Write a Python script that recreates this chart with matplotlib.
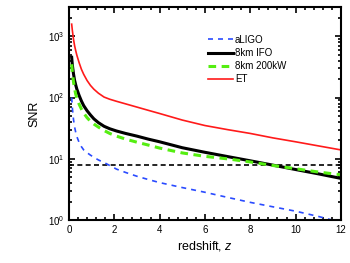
import matplotlib
matplotlib.use('Agg')
import matplotlib.pyplot as plt
from matplotlib.ticker import MultipleLocator, LogLocator, NullFormatter
import numpy as np

plt.rcParams['font.family'] = ['Liberation Sans', 'DejaVu Sans']
plt.rcParams['mathtext.fontset'] = 'custom'
plt.rcParams['mathtext.rm'] = 'Liberation Sans'
plt.rcParams['mathtext.it'] = 'Liberation Sans:italic'

# redshift grid
z = [0.12, 0.15, 0.2, 0.25, 0.3, 0.35, 0.45, 0.55, 0.65, 0.8, 0.95, 1.1, 1.3, 1.55,
     1.8, 2.1, 2.5, 3, 3.5, 4, 5, 6, 7, 8, 9, 10, 11, 12]

snr_aligo = [100, 68, 44, 33, 27, 23, 18.5, 15.8, 14, 12.6, 11.5, 10.6, 9.6, 8.7,
             7.8, 6.8, 6.0, 5.2, 4.6, 4.1, 3.4, 2.85, 2.35, 1.95, 1.65, 1.4, 1.15, 0.92]
snr_8km = [455, 340, 245, 190, 160, 137, 108, 88, 74, 61, 52, 45, 39, 34,
           31, 28.5, 26, 23.5, 21, 19, 15.2, 12.8, 10.9, 9.3, 7.9, 6.7, 5.7, 4.8]
snr_8km200 = [350, 260, 180, 140, 113, 97, 78, 65, 56, 47, 41, 37, 33, 29,
              26, 23.5, 21, 18.7, 16.8, 15, 12.5, 11, 10, 8.9, 7.8, 6.9, 6.1, 5.5]
snr_et = [1580, 1250, 900, 700, 580, 490, 370, 290, 240, 190, 158, 137, 118, 102,
          94, 87, 79, 70, 62, 55, 43, 35, 30, 26, 22, 19, 16.3, 14]

threshold = 8
labels = ['aLIGO', '8km IFO', '8km 200kW', 'ET']

fig = plt.figure(figsize=(3.5, 2.63), dpi=100)
ax = fig.add_axes([0.197, 0.163, 0.777, 0.81])

ax.axhline(threshold, color='black', ls=(0, (3, 2)), lw=1.2)
ax.plot(z, snr_aligo, color='#2a4bff', ls=(0, (3, 3)), lw=1.2, label=labels[0])
ax.plot(z, snr_8km, color='black', lw=2.2, label=labels[1])
ax.plot(z, snr_8km200, color='#55ee11', ls=(0, (2.5, 1.8)), lw=2.2, label=labels[2])
ax.plot(z, snr_et, color='#ff1a1a', lw=1.2, label=labels[3])

ax.set_yscale('log')
ax.set_xlim(0, 12)
ax.set_ylim(1, 3000)
ax.set_xticks(np.arange(0, 13, 2))
ax.xaxis.set_minor_locator(MultipleLocator(0.4))
ax.yaxis.set_major_locator(LogLocator(base=10, numticks=10))
ax.yaxis.set_minor_locator(LogLocator(base=10, subs=np.arange(2, 10), numticks=10))
ax.yaxis.set_minor_formatter(NullFormatter())

ax.tick_params(which='both', direction='in', top=True, right=True, labelsize=7, width=1.2)
ax.tick_params(which='major', length=4)
ax.tick_params(which='minor', length=2)
for s in ax.spines.values():
    s.set_linewidth(1.5)

ax.set_xlabel('redshift, $z$', fontsize=9, labelpad=3)
ax.set_ylabel('SNR', fontsize=9, labelpad=5)

ax.legend(loc='upper left', bbox_to_anchor=(0.51, 0.87), frameon=False, fontsize=7,
          handlelength=2.6, handletextpad=0.2, labelspacing=0.33, borderpad=0, borderaxespad=0)

plt.savefig('out.png', dpi=100)
